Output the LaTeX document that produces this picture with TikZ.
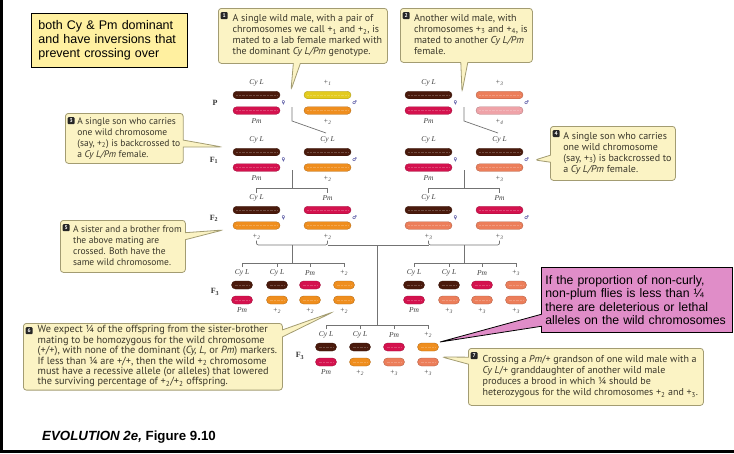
\documentclass[tikz,border=0pt]{standalone}
\usepackage{fontspec}
\setmainfont{Liberation Sans}
\newfontfamily\calloutfont{PT Sans}
\newfontfamily\symfont{DejaVu Sans}
\newfontfamily\serifl{Liberation Serif}
\usetikzlibrary{shapes.callouts}
\definecolor{cyl}{HTML}{4A1A0C}
\definecolor{pmc}{HTML}{D4124E}
\definecolor{wa}{HTML}{E3CB1E}
\definecolor{wb}{HTML}{EF8E1E}
\definecolor{wc}{HTML}{EC7E5A}
\definecolor{wd}{HTML}{EFA3A8}
\definecolor{callfill}{HTML}{FBF3C4}
\definecolor{calldraw}{HTML}{A39C72}
\definecolor{calltext}{HTML}{3A372A}
\definecolor{notefill}{HTML}{FFF0A0}
\definecolor{pinkfill}{HTML}{E08DC8}
\tikzset{
  chrom/.style={rounded corners=3.7pt, minimum height=7.5pt, inner sep=0pt, fill=#1, draw=#1!75!black, line width=0.35pt,
    path picture={\draw[white, opacity=.22, line width=.9pt, dash pattern=on .8pt off .6pt]
      ([xshift=3pt]path picture bounding box.west) -- ([xshift=-3pt]path picture bounding box.east);}},
  bigc/.style={chrom=#1, minimum width=47pt},
  smallc/.style={chrom=#1, minimum width=21pt, minimum height=8pt, rounded corners=4pt},
  clab/.style={font=\serifl\itshape\fontsize{7.5}{7.5}\selectfont, text=black!75, inner sep=0pt},
  sexs/.style={font=\symfont\fontsize{5}{5}\selectfont, text=blue!45!black, inner sep=0pt},
  gen/.style={font=\serifl\bfseries\fontsize{8}{8}\selectfont, text=black!80, inner sep=0pt},
  link/.style={draw=black!55, line width=0.7pt},
  callout/.style={rectangle callout, rounded corners=3pt, fill=callfill, draw=calldraw, line width=0.8pt,
    anchor=north west, inner xsep=3pt, inner ysep=2pt,
    font=\calloutfont\fontsize{10}{11}\selectfont, text=calltext, callout pointer width=7pt},
  smallfont/.style={font=\calloutfont\fontsize{9.5}{11}\selectfont},
  badge/.style={fill=black!85, rounded corners=1pt, text=white, font=\calloutfont\bfseries\fontsize{5.5}{5.5}\selectfont,
    minimum size=7pt, inner sep=0pt, anchor=north west},
}
\newcommand\chrpair[8]{%
  \node[bigc=#4] (#1t) at (#2,#3) {};
  \node[bigc=#5] (#1b) at (#2,#3+15.5) {};
  \node[clab] (#1tl) at (#2,#3-12) {#6};
  \node[clab] (#1bl) at (#2,#3+26.5) {#7};
  \node[sexs] (#1s) at (#2+27,#3+8) {#8};
}
\newcommand\smallpair[7]{%
  \node[smallc=#4] (#1t) at (#2,#3) {};
  \node[smallc=#5] (#1b) at (#2,#3+15) {};
  \node[clab] (#1tl) at (#2,#3-12) {#6};
  \node[clab] (#1bl) at (#2,#3+25.5) {#7};
}
\newcommand\ws[1]{+\textsubscript{#1}}
\newenvironment{ctext}{\begin{tabular}{@{\hspace{9pt}}l@{}}}{\end{tabular}}
\begin{document}
\begin{tikzpicture}[x=1pt,y=-1pt]
\useasboundingbox (0,0) rectangle (734,453);
% frame
\draw[line width=3pt] (1.5,0) -- (1.5,451.5) -- (734,451.5);

% ---------- left lineage ----------
\chrpair{pA}{256.5}{95}{cyl}{pmc}{Cy L}{Pm}{♀}
\chrpair{pB}{327.5}{95}{wa}{wb}{\ws{1}}{\ws{2}}{♂}
\chrpair{fA}{256.5}{152}{cyl}{pmc}{Cy L}{Pm}{♀}
\chrpair{fB}{327.5}{152}{cyl}{wb}{Cy L}{\ws{2}}{♂}
\chrpair{sA}{256.5}{210}{cyl}{wb}{Cy L}{\ws{2}}{♀}
\chrpair{sB}{327.5}{210}{pmc}{wb}{Pm}{\ws{2}}{♂}
% ---------- right lineage ----------
\chrpair{pC}{428.5}{95}{cyl}{pmc}{Cy L}{Pm}{♀}
\chrpair{pD}{499.5}{95}{wc}{wd}{\ws{3}}{\ws{4}}{♂}
\chrpair{fC}{428.5}{152}{cyl}{pmc}{Cy L}{Pm}{♀}
\chrpair{fD}{499.5}{152}{cyl}{wc}{Cy L}{\ws{3}}{♂}
\chrpair{sC}{428.5}{210}{cyl}{wc}{Cy L}{\ws{3}}{♀}
\chrpair{sD}{499.5}{210}{pmc}{wc}{Pm}{\ws{3}}{♂}
% ---------- F3 groups ----------
\smallpair{gA}{242}{285}{cyl}{pmc}{Cy L}{Pm}
\smallpair{gB}{277}{285}{cyl}{wb}{Cy L}{\ws{2}}
\smallpair{gC}{310}{285}{pmc}{wb}{Pm}{\ws{2}}
\smallpair{gD}{344}{285}{wb}{wb}{\ws{2}}{\ws{2}}
\smallpair{gE}{414}{285}{cyl}{pmc}{Cy L}{Pm}
\smallpair{gF}{449}{285}{cyl}{wc}{Cy L}{\ws{3}}
\smallpair{gG}{482}{285}{pmc}{wc}{Pm}{\ws{3}}
\smallpair{gH}{516}{285}{wc}{wc}{\ws{3}}{\ws{3}}
\smallpair{hA}{326}{347}{cyl}{pmc}{Cy L}{Pm}
\smallpair{hB}{360}{347}{cyl}{wb}{Cy L}{\ws{2}}
\smallpair{hC}{394}{347}{pmc}{wc}{Pm}{\ws{3}}
\smallpair{hD}{428}{347}{wb}{wc}{\ws{2}}{\ws{3}}

% generation labels
\node[gen] (gP) at (215,103) {P};
\node[gen] (gF1) at (214,160) {F\textsubscript{1}};
\node[gen] (gF2) at (214,218) {F\textsubscript{2}};
\node[gen] (gF3) at (215,292) {F\textsubscript{3}};
\node[gen] (gF3b) at (300,356) {F\textsubscript{3}};

% ---------- connectors ----------
\foreach \o/\n in {0/L,172/R}{
  \coordinate (a\n) at (292+\o,107);
  \coordinate (b\n) at (292+\o,121);
  \coordinate (c\n) at (326+\o,133);
  \draw[link] (a\n) -- (b\n) -- (c\n);
  \coordinate (d\n) at (292+\o,170);
  \coordinate (e\n) at (292+\o,188);
  \draw[link] (d\n) -- (e\n);
  \draw[link] (256.5+\o,193) -- (256.5+\o,188) -- (327.5+\o,188) -- (327.5+\o,193);
}
\draw[link, rounded corners=2pt] (256.5,240.5) -- (256.5,245) -- (327.5,245) -- (327.5,240.5);
\draw[link] (327.5,245) -- (428.5,245);
\draw[link, rounded corners=2pt] (428.5,240.5) -- (428.5,245) -- (499.5,245) -- (499.5,240.5);
\draw[link] (292,245) -- (292,263);
\draw[link] (464,245) -- (464,263);
\draw[link] (377,245) -- (377,325);
\draw[link] (242,267) -- (242,263) -- (344,263) -- (344,267);
\draw[link] (277,263) -- (277,267) (310,263) -- (310,267);
\draw[link] (414,267) -- (414,263) -- (516,263) -- (516,267);
\draw[link] (449,263) -- (449,267) (482,263) -- (482,267);
\draw[link] (326,329) -- (326,325) -- (428,325) -- (428,329);
\draw[link] (360,325) -- (360,329) (394,325) -- (394,329);

% ---------- callouts ----------
\coordinate (tip1) at (291,90);
\coordinate (tip2) at (462,92);
\coordinate (tip3) at (222,147);
\coordinate (tip4) at (535,160);
\coordinate (tip5) at (223,230);
\coordinate (tip6) at (333,312);
\coordinate (tip7) at (442,357);
\coordinate (tipP) at (440,342);

\node[callout, callout absolute pointer={(tip1)}, minimum width=169pt, minimum height=55pt] (c1) at (218,8)
 {\begin{ctext}A single wild male, with a pair of\\ chromosomes we call \ws{1} and \ws{2}, is\\ mated to a lab female marked with\\ the dominant \textit{Cy L/Pm} genotype.\end{ctext}};
\node[callout, callout absolute pointer={(tip2)}, minimum width=132pt, minimum height=54pt] (c2) at (400,8)
 {\begin{ctext}Another wild male, with\\ chromosomes \ws{3} and \ws{4}, is\\ mated to another \textit{Cy L/Pm}\\ female.\end{ctext}};
\node[callout, smallfont, callout absolute pointer={(tip3)}, minimum width=117pt, minimum height=50pt] (c3) at (65,113)
 {\begin{ctext}A single son who carries\\ one wild chromosome\\ (say, \ws{2}) is backcrossed to\\ a \textit{Cy L/Pm} female.\end{ctext}};
\node[callout, callout absolute pointer={(tip4)}, minimum width=125pt, minimum height=54pt] (c4) at (550,126)
 {\begin{ctext}A single son who carries\\ one wild chromosome\\ (say, \ws{3}) is backcrossed to\\ a \textit{Cy L/Pm} female.\end{ctext}};
\node[callout, smallfont, callout absolute pointer={(tip5)}, minimum width=125pt, minimum height=52pt] (c5) at (60,220)
 {\begin{ctext}A sister and a brother from\\ the above mating are\\ crossed. Both have the\\ same wild chromosome.\end{ctext}};
\node[callout, callout absolute pointer={(tip6)}, minimum width=259pt, minimum height=64pt, font=\calloutfont\fontsize{10.3}{10.4}\selectfont] (c6) at (23,323)
 {\begin{ctext}We expect ¼ of the offspring from the sister-brother\\ mating to be homozygous for the wild chromosome\\ (+/+), with none of the dominant (\textit{Cy, L,} or \textit{Pm}) markers.\\ If less than ¼ are +/+, then the wild \ws{2} chromosome\\ must have a recessive allele (or alleles) that lowered\\ the surviving percentage of \ws{2}/\ws{2} offspring.\end{ctext}};
\node[callout, callout absolute pointer={(tip7)}, minimum width=235pt, minimum height=57pt] (c7) at (468,348)
 {\begin{ctext}Crossing a \textit{Pm}/+ grandson of one wild male with a\\ \textit{Cy L}/+ granddaughter of another wild male\\ produces a brood in which ¼ should be\\ heterozygous for the wild chromosomes \ws{2} and \ws{3}.\end{ctext}};

\foreach \c/\n in {c1/1,c2/2,c3/3,c4/4,c5/5,c6/6,c7/7}{
  \node[badge] (bd\n) at ([shift={(2.5,4)}]\c.north west) {\n};
}

% ---------- notes ----------
\node[fill=notefill, draw=black, line width=0.8pt, anchor=north west, minimum width=156pt, minimum height=54pt,
  text width=142pt, inner xsep=7pt, align=left, font=\fontsize{12.5}{14.3}\selectfont] (note) at (31,13)
 {both Cy \& Pm dominant\\ and have inversions that\\ prevent crossing over};
\node[rectangle callout, callout absolute pointer={(tipP)}, callout pointer width=12pt, fill=pinkfill, draw=black,
  line width=0.8pt, anchor=north west, minimum width=191pt, minimum height=65pt, text width=183pt, inner xsep=4pt,
  align=left, font=\fontsize{12.3}{13.4}\selectfont] (pink) at (541,267)
 {If the proportion of non-curly,\\ non-plum flies is less than ¼\\ there are deleterious or lethal\\ alleles on the wild chromosomes};

% caption
\node[anchor=base west, inner sep=0pt, font=\fontsize{13.3}{13.3}\selectfont\bfseries] (cap) at (42,440)
 {\textit{EVOLUTION 2e,} Figure 9.10};
\end{tikzpicture}
\end{document}
